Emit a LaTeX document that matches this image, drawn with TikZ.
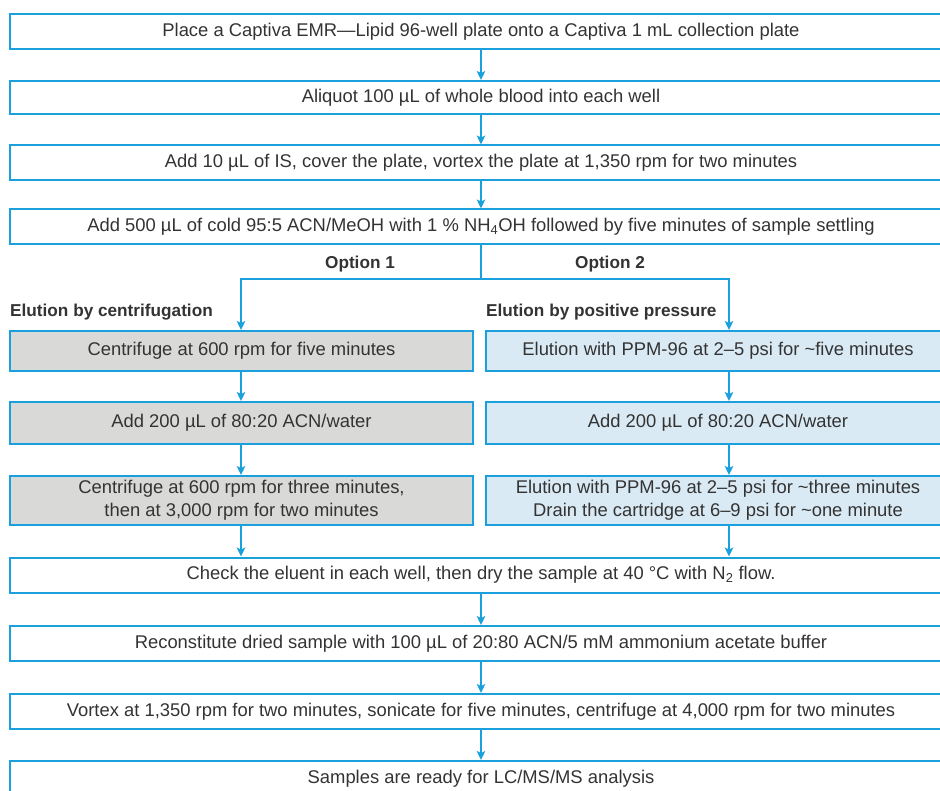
\documentclass[tikz,border=0pt]{standalone}
\usepackage{fontspec}
\setmainfont{Liberation Sans}
\usetikzlibrary{arrows.meta}
\definecolor{fblue}{HTML}{1AA0DC}
\definecolor{fgrey}{HTML}{D9DAD7}
\definecolor{fpale}{HTML}{DAEAF4}
\definecolor{ftext}{HTML}{333333}

\begin{document}
\begin{tikzpicture}[
  x=1pt,y=-1pt,
  font=\fontsize{18.4}{23}\selectfont,text=ftext,
  wide/.style={draw=fblue,line width=2pt,minimum width=942pt,
               minimum height=35pt,inner sep=0pt,align=center},
  lbox/.style={wide,fill=fgrey,minimum width=463pt},
  rbox/.style={wide,fill=fpale,minimum width=464pt},
  hd/.style={font=\fontsize{17.2}{20}\selectfont\bfseries,inner sep=0pt},
  a/.style={-{Stealth[length=9pt,width=8.5pt,inset=2pt]},draw=fblue,line width=2pt}
]
\clip (0,0) rectangle (940,791);

% common steps
\node[wide] (place) at (481,31.5) {Place a Captiva EMR—Lipid 96-well plate onto a Captiva 1 mL collection plate};
\node[wide,minimum height=33pt] (aliq) at (481,97.5) {Aliquot 100 µL of whole blood into each well};
\node[wide] (addis) at (481,163) {Add 10 µL of IS, cover the plate, vortex the plate at 1,350 rpm for two minutes};
\node[wide] (addacn) at (481,227) {Add 500 µL of cold 95:5 ACN/MeOH with 1 \% NH\textsubscript{4}OH followed by five minutes of sample settling};

% the two options
\node[hd] (opt1) at (360,264) {Option 1};
\node[hd] (opt2) at (610,264) {Option 2};
\node[hd,anchor=west] (hdl) at (10,312) {Elution by centrifugation};
\node[hd,anchor=west] (hdr) at (486,312) {Elution by positive pressure};

\node[lbox,minimum height=40pt] (cen1) at (241.5,351) {Centrifuge at 600 rpm for five minutes};
\node[lbox,minimum height=42pt] (cen2) at (241.5,423) {Add 200 µL of 80:20 ACN/water};
\node[lbox,minimum height=49pt] (cen3) at (241.5,500.5) {Centrifuge at 600 rpm for three minutes,\\then at 3,000 rpm for two minutes};

\node[rbox,minimum height=40pt] (ppm1) at (718,351) {Elution with PPM-96 at 2–5 psi for \textasciitilde five minutes};
\node[rbox,minimum height=42pt] (ppm2) at (718,423) {Add 200 µL of 80:20 ACN/water};
\node[rbox,minimum height=49pt] (ppm3) at (718,500.5) {Elution with PPM-96 at 2–5 psi for \textasciitilde three minutes\\Drain the cartridge at 6–9 psi for \textasciitilde one minute};

% common steps again
\node[wide] (dry) at (481,575) {Check the eluent in each well, then dry the sample at 40 °C with N\textsubscript{2} flow.};
\node[wide] (recon) at (481,643.5) {Reconstitute dried sample with 100 µL of 20:80 ACN/5 mM ammonium acetate buffer};
\node[wide] (vort) at (481,711.5) {Vortex at 1,350 rpm for two minutes, sonicate for five minutes, centrifuge at 4,000 rpm for two minutes};
\node[wide] (ready) at (481,778.5) {Samples are ready for LC/MS/MS analysis};

\coordinate (split) at (481,279);
\coordinate (lx) at (241,0);
\coordinate (rx) at (729,0);

\foreach \a/\b in {place/aliq, aliq/addis, addis/addacn, dry/recon, recon/vort, vort/ready}
  {\draw[a] (\a) -- (\b);}

\draw[fblue,line width=2pt] (addacn.south) -- (split);
\draw[a] (split) -| (cen1.north -| lx);
\draw[a] (split) -| (ppm1.north -| rx);

\foreach \a/\b in {cen1/cen2, cen2/cen3, cen3/dry}
  {\draw[a] (\a.south -| lx) -- (\b.north -| lx);}
\foreach \a/\b in {ppm1/ppm2, ppm2/ppm3, ppm3/dry}
  {\draw[a] (\a.south -| rx) -- (\b.north -| rx);}
\end{tikzpicture}
\end{document}
